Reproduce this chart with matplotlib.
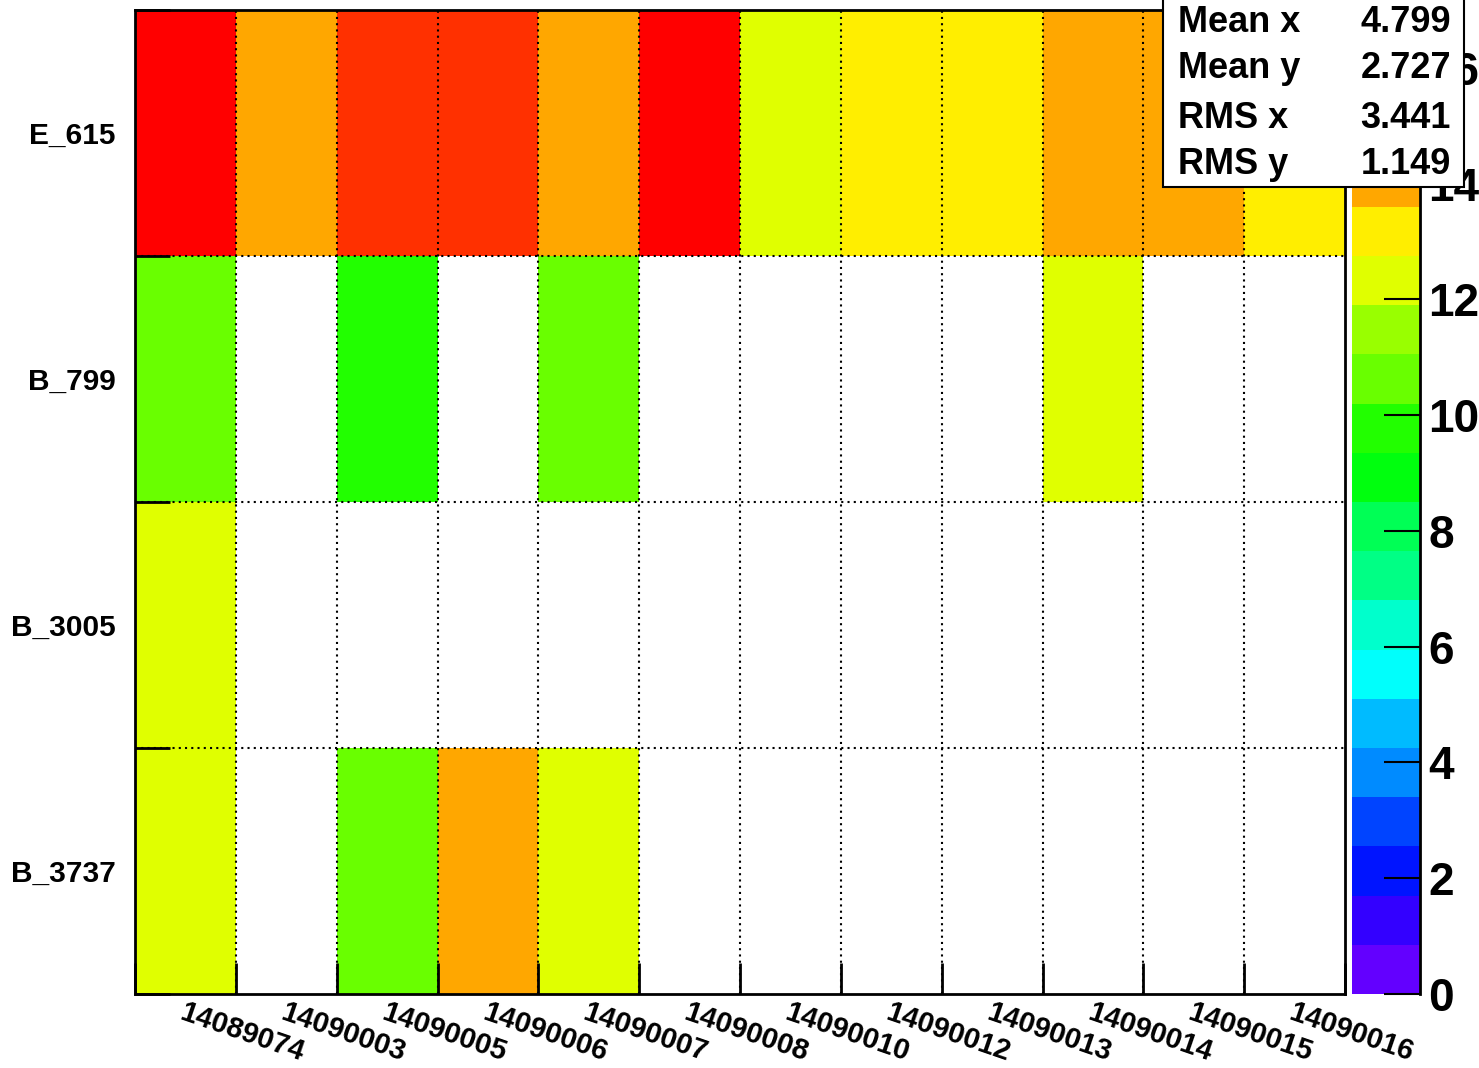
import colorsys
import numpy as np
import matplotlib
matplotlib.use("Agg")
import matplotlib.pyplot as plt
from matplotlib.colors import ListedColormap, BoundaryNorm
from matplotlib.patches import Rectangle

plt.rcParams['font.family'] = ['Liberation Sans', 'DejaVu Sans']

# ---- data ----
runs = ["14089074", "14090003", "14090005", "14090006", "14090007", "14090008",
        "14090010", "14090012", "14090013", "14090014", "14090015", "14090016"]
rows = ["B_3737", "B_3005", "B_799", "E_615"]  # bottom to top
vals_B_3737 = [12, 0, 11, 14, 12, 0, 0, 0, 0, 0, 0, 0]
vals_B_3005 = [12, 0, 0, 0, 0, 0, 0, 0, 0, 0, 0, 0]
vals_B_799 = [11, 0, 10, 0, 11, 0, 0, 0, 0, 12, 0, 0]
vals_E_615 = [17, 14, 16, 16, 14, 17, 12, 13, 13, 14, 14, 13]
zmax = 17
ncont = 20
cbar_ticks = [0, 2, 4, 6, 8, 10, 12, 14, 16]
stats_names = ["Mean x", "Mean y", "RMS x", "RMS y"]
stats_vals = ["4.799", "2.727", "3.441", "1.149"]

Z = np.array([vals_B_3737, vals_B_3005, vals_B_799, vals_E_615], dtype=float)
Zm = np.ma.masked_where(Z <= 0, Z)

# ROOT "pretty palette" sampled for 20 contours
cols = []
for k in range(ncont):
    j = int((k + 0.99) * 50 / ncont)
    hue = 280 - (j + 1) * 280 / 50
    cols.append(colorsys.hls_to_rgb(hue / 360.0, 0.5, 1.0))
cmap = ListedColormap(cols)
levels = np.linspace(0, zmax, ncont + 1)
norm = BoundaryNorm(levels, cmap.N)

W, H = 1479, 1068
fig = plt.figure(figsize=(W / 100, H / 100), dpi=100)
ax = fig.add_axes([135 / W, (H - 994) / H, 1210 / W, 984 / H])
cax = fig.add_axes([1352 / W, (H - 994) / H, 68 / W, 984 / H])

nx, ny = len(runs), len(rows)
xe = np.arange(nx + 1)
ye = np.arange(ny + 1)
mesh = ax.pcolormesh(xe, ye, Zm, cmap=cmap, norm=norm, zorder=1)
ax.set_xlim(0, nx)
ax.set_ylim(0, ny)

# grid (dotted) at bin edges
for x in xe[1:-1]:
    ax.axvline(x, color='k', lw=1.5, ls=(0, (1, 2)), zorder=2)
for y in ye[1:-1]:
    ax.axhline(y, color='k', lw=1.5, ls=(0, (1, 2)), zorder=2)

ax.set_xticks(xe)
ax.set_xticklabels([])
ax.set_xticks(np.arange(nx) + 0.5, minor=True)
ax.set_xticklabels(runs, minor=True, rotation=-19, ha='left', va='top',
                   rotation_mode='anchor', fontsize=21, fontweight='bold')
ax.tick_params(axis='x', which='major', direction='in', length=22, width=2)
ax.tick_params(axis='x', which='minor', length=0, pad=3)

ax.set_yticks(ye)
ax.set_yticklabels([])
ax.set_yticks(np.arange(ny) + 0.5, minor=True)
ax.set_yticklabels(rows, minor=True, fontsize=21.5, fontweight='bold')
ax.tick_params(axis='y', which='major', direction='in', length=25, width=2)
ax.tick_params(axis='y', which='minor', length=0, pad=14)
for s in ax.spines.values():
    s.set_linewidth(2)
    s.set_zorder(3)

# colorbar
cb = fig.colorbar(mesh, cax=cax, ticks=cbar_ticks)
cb.outline.set_visible(False)
cax.plot([1, 1], [0, 1], transform=cax.transAxes, color='k', lw=2, clip_on=False)
cax.tick_params(axis='y', direction='in', length=26, width=1.5, pad=6,
                labelsize=33)
for t in cax.get_yticklabels():
    t.set_fontweight('bold')
cax.minorticks_off()

# stats box
bx0, bx1, by0, by1 = 1163, 1464, -5, 187
box = Rectangle((bx0 / W, 1 - by1 / H), (bx1 - bx0) / W, (by1 - by0) / H,
                transform=fig.transFigure, facecolor='white', edgecolor='black',
                lw=1.5, zorder=10, clip_on=False)
fig.patches.append(box)
baselines = [32, 78, 128, 174]
for name, val, yb in zip(stats_names, stats_vals, baselines):
    fig.text(1178 / W, 1 - yb / H, name, fontsize=26, fontweight='bold',
             ha='left', va='baseline', zorder=11)
    fig.text(1451 / W, 1 - yb / H, val, fontsize=26, fontweight='bold',
             ha='right', va='baseline', zorder=11)

fig.savefig("out.png", dpi=100)
